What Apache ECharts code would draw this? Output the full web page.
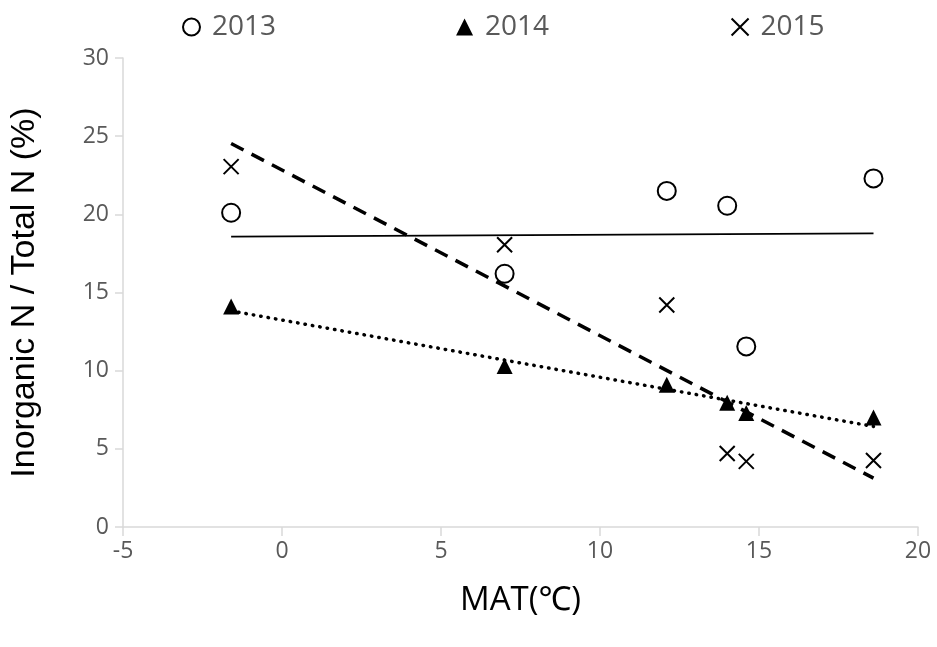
<!DOCTYPE html>
<html>
<head>
<meta charset="utf-8">
<script src="https://cdn.jsdelivr.net/npm/echarts@6/dist/echarts.min.js"></script>
<style>
  html, body { margin: 0; padding: 0; background: #fff; }
  #chart { width: 937px; height: 647px; }
</style>
</head>
<body>
<div id="chart"></div>
<script>
// MAT (°C) of the six sites
const mat = [-1.6, 7.0, 12.1, 14.0, 14.6, 18.6];
// inorganic N / total N (%) per year
const y2013 = [20.1, 16.2, 21.5, 20.55, 11.55, 22.3];
const y2014 = [14.1, 10.3, 9.1, 7.95, 7.3, 7.0];
const y2015 = [23.05, 18.05, 14.2, 4.7, 4.2, 4.25];
const years = ['2013', '2014', '2015'];

const FONT = '"Open Sans", "Noto Sans", sans-serif';
const GREY = '#595959';
const CROSS = 'path://M0,0L10,10M10,0L0,10';

function pairs(ys) {
    return mat.map((x, i) => [x, ys[i]]);
}

// linear trendline (least squares) over the data range, like Excel does
function trend(ys) {
    const n = mat.length;
    const mx = mat.reduce((a, b) => a + b, 0) / n;
    const my = ys.reduce((a, b) => a + b, 0) / n;
    let sxy = 0, sxx = 0;
    for (let i = 0; i < n; i++) {
        sxy += (mat[i] - mx) * (ys[i] - my);
        sxx += (mat[i] - mx) * (mat[i] - mx);
    }
    const k = sxy / sxx;
    const x0 = Math.min(...mat), x1 = Math.max(...mat);
    return [[x0, my + k * (x0 - mx)], [x1, my + k * (x1 - mx)]];
}

function trendSeries(ys, lineStyle) {
    return {
        type: 'line',
        data: trend(ys),
        symbol: 'none',
        silent: true,
        lineStyle: Object.assign({ color: '#000' }, lineStyle),
        z: 1
    };
}

const chart = echarts.init(document.getElementById('chart'));
chart.setOption({
    animation: false,
    backgroundColor: '#fff',
    textStyle: { fontFamily: FONT },
    grid: { left: 123, right: 19, top: 58, bottom: 120 },
    legend: {
        top: 8,
        left: 177,
        itemGap: 180,
        itemWidth: 17,
        itemHeight: 17,
        textStyle: { fontSize: 28, color: GREY, fontFamily: FONT, padding: [0, 0, 0, 7] },
        data: years
    },
    xAxis: {
        type: 'value',
        min: -5, max: 20, interval: 5,
        name: 'MAT(℃)',
        nameLocation: 'middle',
        nameGap: 57,
        nameTextStyle: { fontSize: 33, color: '#000', fontFamily: FONT },
        axisLine: { onZero: false, lineStyle: { color: '#d9d9d9', width: 1.5 } },
        axisTick: { show: true, length: 9, lineStyle: { color: '#d9d9d9', width: 1.5 } },
        axisLabel: { fontSize: 23, color: GREY, margin: 13 },
        splitLine: { show: false }
    },
    yAxis: {
        type: 'value',
        min: 0, max: 30, interval: 5,
        name: 'Inorganic N / Total N (%)',
        nameLocation: 'middle',
        nameGap: 81,
        nameTextStyle: { fontSize: 34, color: '#000', fontFamily: '"Liberation Sans", Arial, sans-serif' },
        axisLine: { show: true, onZero: false, lineStyle: { color: '#d9d9d9', width: 1.5 } },
        axisTick: { show: true, length: 8, lineStyle: { color: '#d9d9d9', width: 1.5 } },
        axisLabel: { fontSize: 23, color: GREY, margin: 14 },
        splitLine: { show: false }
    },
    series: [
        {
            name: '2013',
            type: 'scatter',
            data: pairs(y2013),
            symbol: 'circle',
            symbolSize: 18,
            itemStyle: { color: '#fff', borderColor: '#000', borderWidth: 2, opacity: 1 },
            z: 3
        },
        {
            name: '2014',
            type: 'scatter',
            data: pairs(y2014),
            symbol: 'triangle',
            symbolSize: 16,
            itemStyle: { color: '#000', opacity: 1 },
            z: 3
        },
        {
            name: '2015',
            type: 'scatter',
            data: pairs(y2015),
            symbol: CROSS,
            symbolSize: 15,
            itemStyle: { color: 'none', borderColor: '#000', borderWidth: 2, opacity: 1 },
            z: 3
        },
        trendSeries(y2013, { width: 1.8, type: 'solid' }),
        trendSeries(y2014, { width: 3.5, type: [0.5, 7], cap: 'round' }),
        trendSeries(y2015, { width: 3.5, type: [14, 9] })
    ]
});
</script>
</body>
</html>
